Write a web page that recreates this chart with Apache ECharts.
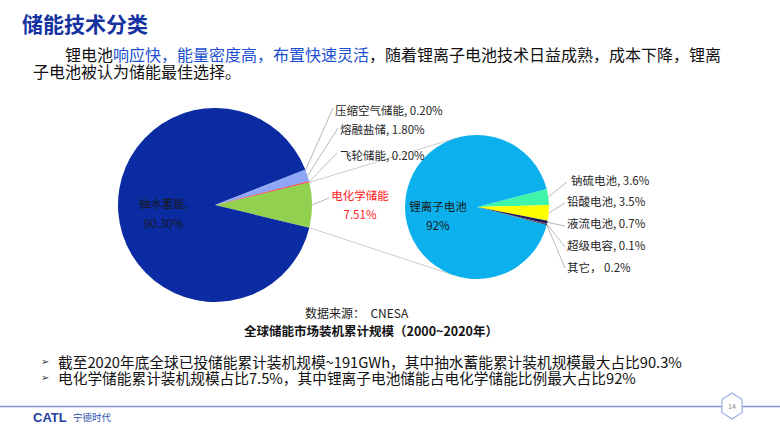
<!DOCTYPE html>
<html><head><meta charset="utf-8">
<script src="https://cdn.jsdelivr.net/npm/echarts@6/dist/echarts.min.js"></script>
<style>html,body{margin:0;padding:0;background:#fff}#c{width:780px;height:439px}</style>
</head><body><div id="c"></div>
<script>
// ---- data ----
const pie1Names = ['电化学储能', '抽水蓄能', '压缩空气储能', '熔融盐储', '飞轮储能'];
const pie1Values = [7.51, 90.30, 0.20, 1.80, 0.20];
const pie1Colors = ['#92d050', '#0b2ba3', '#6f8cf0', '#8fa6f7', '#ff3030'];

const pie2Names = ['钠硫电池', '铅酸电池', '液流电池', '超级电容', '其它', '锂离子电池'];
const pie2Values = [3.6, 3.5, 0.7, 0.1, 0.2, 92];
const pie2Colors = ['#3ef5a8', '#ffff00', '#1a1a5a', '#7030a0', '#2f2f2f', '#0bb0ec'];

// ---- layout ----
const FONT = '"Noto Sans CJK SC","Noto Sans",sans-serif';
const C1 = [215, 205], R1 = 97, START1 = 13.5;
const C2 = [477, 207], R2 = 72, START2 = 14.5;

const pie1LabelPos = {
  '压缩空气储能': {x: 335, y: 110, lx: 333, ly: 108},
  '熔融盐储': {x: 340, y: 129, lx: 338, ly: 128},
  '飞轮储能': {x: 340, y: 155, lx: 337, ly: 153},
  '电化学储能': {x: 360, y: 204, lx: 329, ly: 198, align: 'center'}
};
const pie2LabelPos = {
  '钠硫电池': {x: 571, y: 180, lx: 567, ly: 182},
  '铅酸电池': {x: 567, y: 201, lx: 565, ly: 203},
  '液流电池': {x: 567, y: 223, lx: 565, ly: 226},
  '超级电容': {x: 567, y: 245, lx: 565, ly: 247},
  '其它': {x: 567, y: 267, lx: 565, ly: 268}
};

const sum = a => a.reduce((s, v) => s + v, 0);

function pie1Label(p) {
  if (p.name === '抽水蓄能') return p.name + ',\n' + p.value.toFixed(2) + '%';
  if (p.name === '电化学储能') return p.name + '\n' + p.value.toFixed(2) + '%';
  return p.name + ', ' + p.value.toFixed(2) + '%';
}
function pie2Label(p) {
  if (p.name === '锂离子电池') return p.name + '\n' + p.value + '%';
  if (p.name === '其它') return p.name + '， ' + p.value + '%';
  return p.name + ', ' + p.value + '%';
}

const pie1Data = pie1Names.map((n, i) => {
  const d = {name: n, value: pie1Values[i], itemStyle: {color: pie1Colors[i]}};
  if (n === '抽水蓄能') { d.label = {position: 'inner', color: '#1a1a1a', lineHeight: 20}; d.labelLine = {show: false}; }
  if (n === '电化学储能') { d.label = {color: '#ff2020', lineHeight: 19, align: 'center'}; }
  return d;
});
const pie2Data = pie2Names.map((n, i) => {
  const d = {name: n, value: pie2Values[i], itemStyle: {color: pie2Colors[i]}};
  if (n === '锂离子电池') { d.label = {position: 'inner', color: '#1a1a1a', lineHeight: 19}; d.labelLine = {show: false}; }
  return d;
});

function makeLayout(posMap, names, innerDy) {
  return function (p) {
    const pos = posMap[names[p.dataIndex]];
    if (!pos) return {dy: innerDy};
    const res = {x: pos.x, y: pos.y, align: pos.align || 'left', verticalAlign: 'middle'};
    if (p.labelLinePoints) {
      const a = p.labelLinePoints[0];
      res.labelLinePoints = [a, [(a[0] + pos.lx) / 2, (a[1] + pos.ly) / 2], [pos.lx, pos.ly]];
    }
    return res;
  };
}

// connector lines from the electrochemical slice to pie 2 (computed from the pie geometry)
const deg = Math.PI / 180;
const aTop = START1 * deg;
const aBot = (START1 - 360 * pie1Values[0] / sum(pie1Values)) * deg;
const pTop = [C1[0] + R1 * Math.cos(aTop), C1[1] - R1 * Math.sin(aTop)];
const pBot = [C1[0] + R1 * Math.cos(aBot), C1[1] - R1 * Math.sin(aBot)];
function tangent(P, C, r, sign) {
  const dx = P[0] - C[0], dy = P[1] - C[1];
  const d = Math.hypot(dx, dy);
  const a = Math.atan2(dy, dx) + sign * Math.acos(r / d);
  return [C[0] + r * Math.cos(a), C[1] + r * Math.sin(a)];
}
const tTop = tangent(pTop, C2, R2, 1);
const tBot = tangent(pBot, C2, R2, -1);

// hexagon for page number
const hexC = [732, 406], hexR = 13;
const hexPts = [];
for (let i = 0; i < 6; i++) { const a = (90 + 60 * i) * deg; hexPts.push([hexC[0] + hexR * Math.cos(a) * 0.9, hexC[1] - hexR * Math.sin(a)]); }

const labelCommon = {fontSize: 11.5, fontFamily: FONT, color: '#262626'};
const lineCommon = {show: true, length: 10, length2: 10, lineStyle: {color: '#a6a6a6', width: 0.8}};

const chart = echarts.init(document.getElementById('c'), null, {renderer: 'svg'});
chart.setOption({
  animation: false,
  backgroundColor: '#fff',
  series: [
    {
      type: 'pie', center: C1, radius: R1, startAngle: START1, clockwise: true,
      avoidLabelOverlap: false, silent: true, z: 3,
      data: pie1Data,
      label: Object.assign({formatter: pie1Label}, labelCommon),
      labelLine: lineCommon,
      labelLayout: makeLayout(pie1LabelPos, pie1Names, 4)
    },
    {
      type: 'pie', center: C2, radius: R2, startAngle: START2, clockwise: true,
      avoidLabelOverlap: false, silent: true, z: 3,
      data: pie2Data,
      label: Object.assign({formatter: pie2Label}, labelCommon),
      labelLine: lineCommon,
      labelLayout: makeLayout(pie2LabelPos, pie2Names, 9)
    }
  ],
  graphic: [
    {type: 'line', z: 1, shape: {x1: pTop[0], y1: pTop[1], x2: tTop[0], y2: tTop[1]}, style: {stroke: '#bfbfbf', lineWidth: 0.8}},
    {type: 'line', z: 1, shape: {x1: pBot[0], y1: pBot[1], x2: tBot[0], y2: tBot[1]}, style: {stroke: '#bfbfbf', lineWidth: 0.8}},
    {type: 'text', x: 22, y: 23, style: {text: '储能技术分类', fontSize: 21, fontWeight: 'bold', fontFamily: FONT, fill: '#1432a0', verticalAlign: 'middle'}},
    {type: 'text', x: 33, y: 62, style: {
      text: '{n|　　锂电池}{b|响应快，能量密度高，布置快速灵活}{n|，随着锂离子电池技术日益成熟，成本下降，锂离}\n{n|子电池被认为储能最佳选择。}',
      fontSize: 16, lineHeight: 17, fontFamily: FONT, fill: '#111', verticalAlign: 'middle',
      rich: {
        n: {fill: '#111', fontSize: 16, lineHeight: 17, fontFamily: FONT},
        b: {fill: '#2050d0', fontSize: 16, lineHeight: 17, fontFamily: FONT}
      }}},
    {type: 'text', x: 305, y: 312, style: {text: '数据来源：  CNESA', fontSize: 12, fontFamily: FONT, fill: '#222', verticalAlign: 'middle'}},
    {type: 'text', x: 371, y: 330, style: {text: '全球储能市场装机累计规模（2000~2020年）', fontSize: 12.5, fontWeight: 'bold', fontFamily: FONT, fill: '#111', align: 'center', verticalAlign: 'middle'}},
    {type: 'text', x: 41, y: 369, style: {
      text: '{a|➢}{t|截至2020年底全球已投储能累计装机规模~191GWh，其中抽水蓄能累计装机规模最大占比90.3%}\n{a|➢}{t|电化学储能累计装机规模占比7.5%，其中锂离子电池储能占电化学储能比例最大占比92%}',
      fontSize: 14.7, lineHeight: 16, fontFamily: FONT, fill: '#111', verticalAlign: 'middle',
      rich: {
        a: {width: 17, fontSize: 10, lineHeight: 16, fontFamily: '"DejaVu Sans",sans-serif', fill: '#333'},
        t: {fontSize: 14.7, lineHeight: 16, fontFamily: FONT, fill: '#111'}
      }}},
    {type: 'line', shape: {x1: 0, y1: 406.5, x2: 780, y2: 406.5}, style: {stroke: '#8195d8', lineWidth: 1.5}},
    {type: 'polygon', shape: {points: hexPts}, style: {fill: '#fff', stroke: '#9aaae6', lineWidth: 1.2}},
    {type: 'text', x: hexC[0], y: hexC[1], style: {text: '14', fontSize: 7, fontFamily: FONT, fill: '#888', align: 'center', verticalAlign: 'middle'}},
    {type: 'text', x: 33, y: 417, style: {text: 'CATL', fontSize: 13, fontWeight: 900, fontFamily: '"Liberation Sans",Arial,sans-serif', fill: '#1e3f9f', verticalAlign: 'middle'}},
    {type: 'text', x: 73, y: 417, style: {text: '宁德时代', fontSize: 9.5, fontFamily: FONT, fill: '#2a4fb0', verticalAlign: 'middle'}}
  ]
});
</script>
</body></html>
